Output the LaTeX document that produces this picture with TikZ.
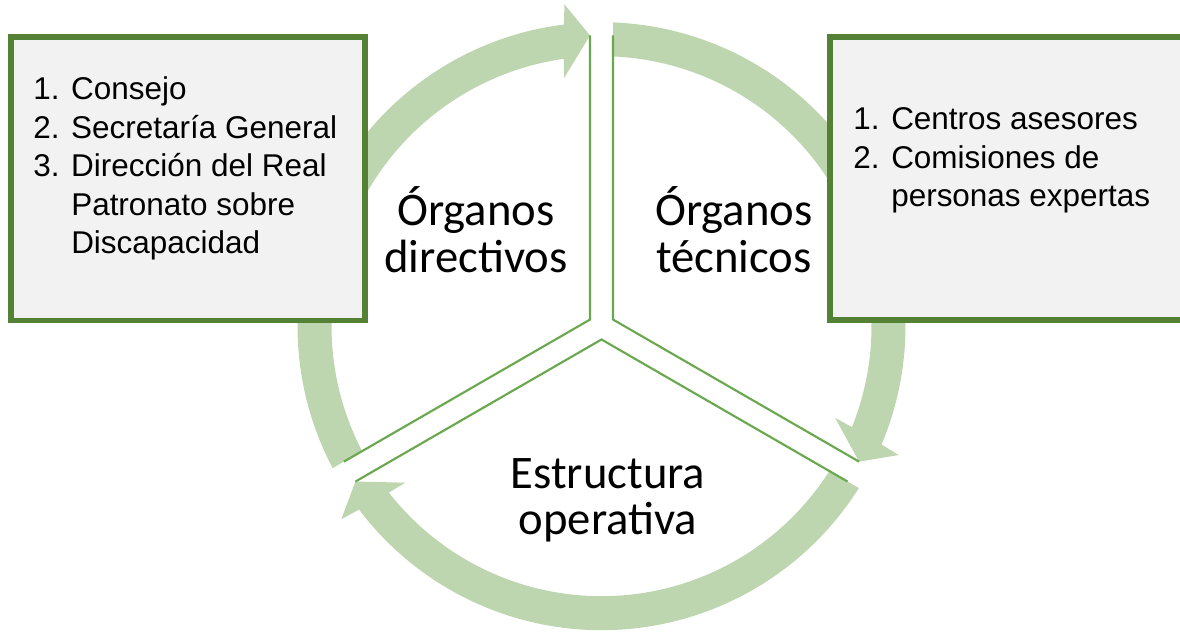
\documentclass[tikz,border=0pt]{standalone}
\usepackage{fontspec}
\setmainfont{Liberation Sans}
\newfontfamily\calib{Carlito}
\definecolor{bandgreen}{HTML}{BDD6B0}
\definecolor{divgreen}{HTML}{6AA84F}
\definecolor{boxgreen}{HTML}{548235}
\definecolor{boxgray}{HTML}{F2F2F2}
\tikzset{
  divider/.style={draw=divgreen, line width=1.6pt, line join=miter},
  listbox/.style={draw=boxgreen, line width=4.3pt, fill=boxgray, inner sep=0pt,
    minimum width=265.3pt, minimum height=212.6pt},
  biglabel/.style={font=\calib\fontsize{35}{35.2}\selectfont, inner sep=0pt, anchor=base},
  listtext/.style={font=\fontsize{23.6}{28.8}\selectfont, inner sep=0pt, anchor=base west},
}
\newcommand\cyclearrow[1]{%
  \fill[bandgreen] ({#1+117.83}:304) arc[start angle={#1+117.83}, end angle={#1+7.1}, radius=304]
    -- ({#1+6.57}:324) -- ({#1+2.265}:291) -- ({#1+8.57}:251) -- ({#1+8.05}:270)
    arc[start angle={#1+8.05}, end angle={#1+117.56}, radius=270] -- cycle;
}
\newcommand\sectoredges[1]{%
  \draw[divider] ({#1+2.265}:291) -- ({#1+60}:13.28) -- ({#1+117.735}:291);
}
\newcommand\numitem[1]{\makebox[28.5pt][l]{#1}}
\begin{document}
\begin{tikzpicture}[x=0.75pt, y=0.75pt]
  \useasboundingbox (0,0) rectangle (1180,633);
  \clip (0,0) rectangle (1180,633);
  \coordinate (C) at (601.5,306.8);
  \begin{scope}[shift={(C)}]
    \cyclearrow{90}
    \cyclearrow{-30}
    \cyclearrow{-150}
    \sectoredges{90}
    \sectoredges{-30}
    \sectoredges{-150}
  \end{scope}
  \node[listbox] (lbox) at (187.85,454.2) {};
  \node[listbox] (rbox) at (1006.5,454.5) {};
  \node[listtext] (llist) at (33,533) {\begin{tabular}[t]{@{}l@{}}
    \numitem{1.}Consejo\\
    \numitem{2.}Secretaría General\\
    \numitem{3.}Dirección del Real\\
    \numitem{}Patronato sobre\\
    \numitem{}Discapacidad
  \end{tabular}};
  \node[listtext] (rlist) at (853,503) {\begin{tabular}[t]{@{}l@{}}
    \numitem{1.}Centros asesores\\
    \numitem{2.}Comisiones de\\
    \numitem{}personas expertas
  \end{tabular}};
  \node[biglabel] (dir) at (476,407) {\begin{tabular}[t]{@{}c@{}}Órganos\\directivos\end{tabular}};
  \node[biglabel] (tec) at (734,407) {\begin{tabular}[t]{@{}c@{}}Órganos\\técnicos\end{tabular}};
  \node[biglabel] (est) at (608,145) {\begin{tabular}[t]{@{}c@{}}Estructura\\operativa\end{tabular}};
\end{tikzpicture}
\end{document}
